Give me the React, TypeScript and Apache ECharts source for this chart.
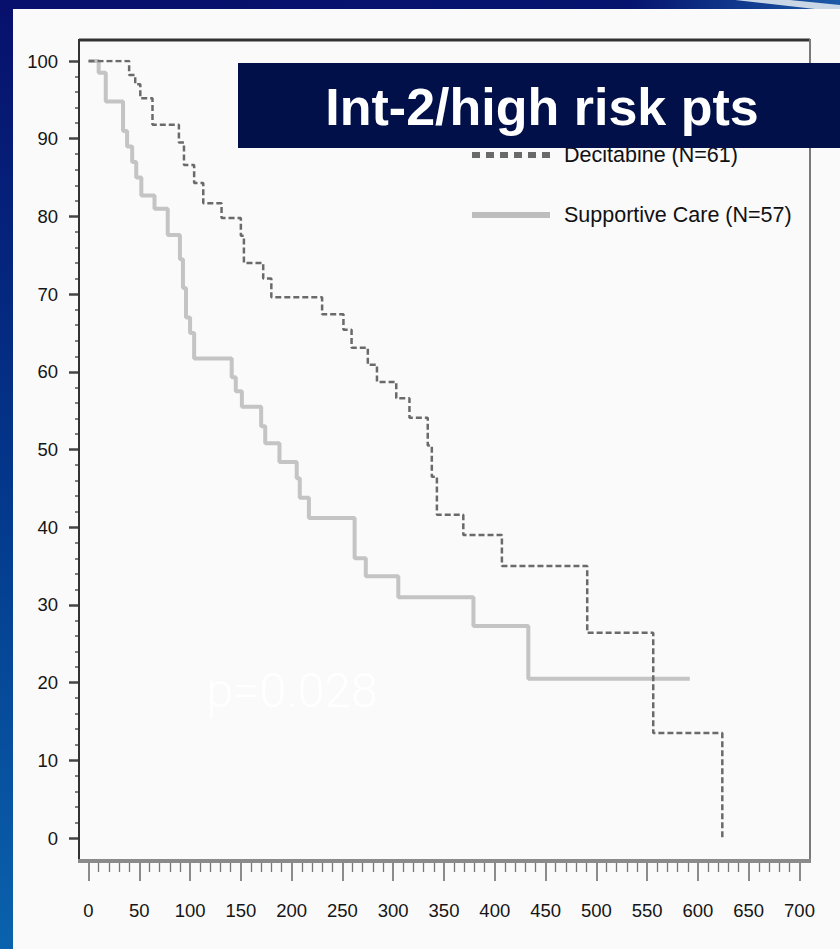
import React, { useEffect, useRef } from "react";
import * as echarts from "echarts";

// Kaplan-Meier step points: day of event, survival (%) after the event
const decDays = [0, 40, 46, 51, 63, 89, 94, 104, 113, 131, 150, 153, 172, 180, 230, 251, 259, 275, 284, 303, 316, 334, 338, 343, 369, 407, 491, 556, 624];
const decSurv = [100, 98.2, 97, 95.2, 91.8, 89.5, 86.6, 84.3, 81.7, 79.8, 77.5, 74, 72, 69.6, 67.4, 65.4, 63.1, 60.9, 58.7, 56.6, 54.1, 50.5, 46.5, 41.6, 39.0, 35.0, 26.4, 13.5, 0];

const scDays = [0, 10, 17, 34, 38, 43, 47, 52, 65, 78, 90, 93, 96, 100, 104, 141, 145, 151, 170, 174, 188, 205, 208, 217, 262, 273, 305, 379, 433, 592];
const scSurv = [100, 98.5, 94.8, 91, 89, 87, 85, 82.7, 81, 77.6, 74.5, 70.8, 67, 65, 61.7, 59.3, 57.5, 55.5, 53, 50.8, 48.4, 46.3, 43.8, 41.2, 36, 33.7, 31, 27.3, 20.5, 20.5];

const seriesNames = ["Decitabine (N=61)", "Supportive Care (N=57)"];
const titleText = "Int-2/high risk pts";
const pValueText = "p=0.028";

const xMin = 0, xMax = 700, xStep = 50;
const yMin = 0, yMax = 100, yStep = 10;

const labelFont = '"Liberation Sans", Arial, sans-serif';

// legend sample shapes: a row of square dashes, and a solid bar
const dashedIcon = "path://" + [0, 1, 2, 3, 4, 5].map((i) => `M${i * 14},0h8v6h-8z`).join("");
const solidIcon = "path://M0,0h78v6h-78z";

export default function App() {
  const ref = useRef<HTMLDivElement>(null);
  useEffect(() => {
    if (!ref.current) return;
    const chart = echarts.init(ref.current, null, { renderer: "svg" });
    const option: any = {
      animation: false,
      backgroundColor: "#fafafa",
      grid: { left: 88.5, right: 40.5, top: 61, bottom: 111 },
      legend: {
        data: [
          { name: seriesNames[0], icon: dashedIcon, itemStyle: { color: "#6a6a6a" } },
          { name: seriesNames[1], icon: solidIcon, itemStyle: { color: "#bdbdbd" } },
        ],
        orient: "vertical",
        left: 467,
        top: 139,
        itemWidth: 80,
        itemHeight: 6,
        itemGap: 38,
        textStyle: { fontFamily: labelFont, fontSize: 21.5, color: "#111", padding: [0, 0, 0, 8] },
      },
      xAxis: {
        type: "value",
        min: xMin,
        max: xMax,
        interval: xStep,
        offset: 23,
        axisLine: { show: false, onZero: false },
        axisTick: { show: true, length: 20, lineStyle: { color: "#666", width: 1.5 } },
        minorTick: { show: true, splitNumber: 5, length: 11, lineStyle: { color: "#777", width: 1.3 } },
        splitLine: { show: false },
        axisLabel: { margin: 40, fontFamily: labelFont, fontSize: 18.5, color: "#151515" },
      },
      yAxis: {
        type: "value",
        min: yMin,
        max: yMax,
        interval: yStep,
        offset: 9.5,
        axisLine: { show: false, onZero: false },
        axisTick: { show: true, length: 10, lineStyle: { color: "#444", width: 2.5 } },
        minorTick: { show: true, splitNumber: 5, length: 4, lineStyle: { color: "#555", width: 1.5 } },
        splitLine: { show: false },
        axisLabel: { margin: 21, fontFamily: labelFont, fontSize: 18.5, color: "#151515" },
      },
      series: [
        {
          type: "line",
          name: seriesNames[0],
          step: "end",
          symbol: "none",
          z: 4,
          data: decDays.map((d, i) => [d, decSurv[i]]),
          lineStyle: { color: "#6a6a6a", width: 2.5, type: [6, 3] },
          itemStyle: { color: "#6a6a6a" },
        },
        {
          type: "line",
          name: seriesNames[1],
          step: "end",
          symbol: "none",
          z: 3,
          data: scDays.map((d, i) => [d, scSurv[i]]),
          lineStyle: { color: "#c4c4c4", width: 4 },
          itemStyle: { color: "#c4c4c4" },
        },
      ],
      graphic: [
        // slide frame: left blue strip and top band
        {
          type: "rect",
          z: -10,
          shape: { x: 0, y: 0, width: 13, height: 949 },
          style: {
            fill: new echarts.graphic.LinearGradient(0, 0, 0, 1, [
              { offset: 0, color: "#07106c" },
              { offset: 0.5, color: "#03368a" },
              { offset: 1, color: "#0a62ad" },
            ]),
          },
        },
        {
          type: "rect",
          z: -10,
          shape: { x: 0, y: 0, width: 840, height: 9 },
          style: {
            fill: new echarts.graphic.LinearGradient(0, 0, 1, 0, [
              { offset: 0, color: "#07106c" },
              { offset: 0.75, color: "#06146e" },
              { offset: 1, color: "#1a5aa8" },
            ]),
          },
        },
        {
          type: "polygon",
          z: -9,
          shape: { points: [[735, 0], [790, 0], [840, 5], [840, 9], [815, 9]] },
          style: { fill: "#c9d6e6" },
        },
        // plot frame
        { type: "line", z: 5, shape: { x1: 79, y1: 40, x2: 810, y2: 40 }, style: { stroke: "#333", lineWidth: 3 } },
        { type: "line", z: 5, shape: { x1: 79, y1: 39, x2: 79, y2: 862 }, style: { stroke: "#333", lineWidth: 2 } },
        { type: "line", z: 5, shape: { x1: 810, y1: 39, x2: 810, y2: 862 }, style: { stroke: "#7a7a7a", lineWidth: 2 } },
        { type: "line", z: 5, shape: { x1: 78, y1: 861, x2: 811, y2: 861 }, style: { stroke: "#8a8a8a", lineWidth: 4 } },
        // p-value (faint white text)
        {
          type: "text",
          z: 6,
          style: {
            x: 292,
            y: 690,
            text: pValueText,
            align: "center",
            verticalAlign: "middle",
            fill: "#ffffff",
            font: '300 48px Roboto, "Liberation Sans", sans-serif',
          },
        },
        // title box
        {
          type: "rect",
          z: 100,
          shape: { x: 238, y: 63, width: 602, height: 85 },
          style: { fill: "#02104a" },
        },
        {
          type: "text",
          z: 101,
          style: {
            x: 542,
            y: 107,
            text: titleText,
            align: "center",
            verticalAlign: "middle",
            fill: "#ffffff",
            font: 'bold 52px "Liberation Sans", Arial, sans-serif',
          },
        },
      ],
    };
    chart.setOption(option);
    return () => chart.dispose();
  }, []);
  return (
    <div
      ref={ref}
      style={{ position: "fixed", left: 0, top: 0, width: 840, height: 949 }}
    />
  );
}
